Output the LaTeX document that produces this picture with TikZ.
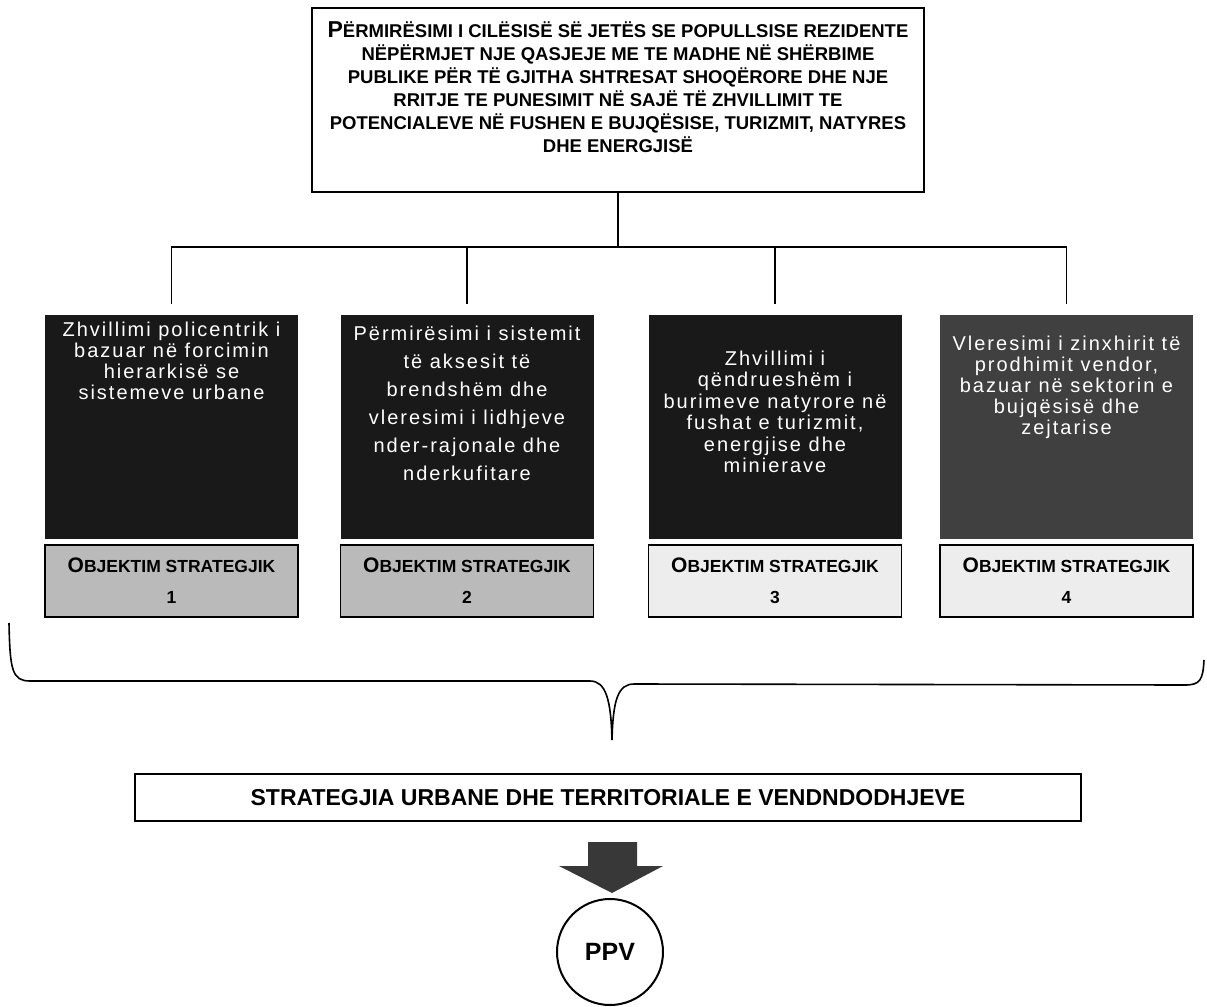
\documentclass[tikz,border=0pt]{standalone}
\usepackage{fontspec}
\setmainfont{Liberation Sans}
\newfontfamily\spacedfont[LetterSpace=10]{Liberation Sans}
\usetikzlibrary{positioning}

\begin{document}
\begin{tikzpicture}[x=0.5pt,y=-0.5pt,
   conn/.style={line width=0.6pt},
   frame/.style={draw,line width=0.6pt,minimum width=306pt,minimum height=92pt,inner sep=0pt},
   goaltext/.style={align=center,inner sep=0pt,font=\bfseries\fontsize{9.25}{11.5}\selectfont},
   objbox/.style={fill=black!90,minimum width=126.5pt,minimum height=112pt,inner sep=0pt},
   objtext/.style={text=white,align=center,inner sep=0pt,font=\spacedfont\fontsize{10}{#1}\selectfont},
   lab/.style={draw,line width=0.7pt,minimum width=126.5pt,minimum height=36pt,inner sep=0pt,
      align=center,font=\bfseries\fontsize{8.75}{15.5}\selectfont},
   strat/.style={draw,line width=0.7pt,minimum width=473pt,minimum height=23.5pt,inner sep=0pt,
      font=\bfseries\fontsize{11.5}{13}\selectfont},
   ppvnode/.style={circle,draw,line width=1pt,minimum size=53pt,inner sep=0pt,
      font=\bfseries\fontsize{12.5}{14}\selectfont}]
   \useasboundingbox (0,0) rectangle (1207,1007);

   % general objective
   \node[frame] (goal) at (618,100) {};
   \node[goaltext, below=6.75pt of goal.north] (goaltext) {{\fontsize{11.5}{11.5}\selectfont P}ËRMIRËSIMI I CILËSISË SË JETËS SE POPULLSISE REZIDENTE\\
      NËPËRMJET NJE QASJEJE ME TE MADHE NË SHËRBIME\\
      PUBLIKE PËR TË GJITHA SHTRESAT SHOQËRORE DHE NJE\\
      RRITJE TE PUNESIMIT NË SAJË TË ZHVILLIMIT TE\\
      POTENCIALEVE NË FUSHEN E BUJQËSISE, TURIZMIT, NATYRES\\
      DHE ENERGJISË};

   % strategic objectives
   \node[objbox] (b1) at (171.5,427) {};
   \node[objbox] (b2) at (467,427) {};
   \node[objbox] (b3) at (775,427) {};
   \node[objbox,fill=black!75] (b4) at (1066.5,427) {};
   \node[objtext=10.5pt, below=3.5pt of b1.north] (t1) {Zhvillimi policentrik i\\bazuar në forcimin\\hierarkisë se\\sistemeve urbane};
   \node[objtext=14pt, below=5.5pt of b2.north] (t2) {Përmirësimi i sistemit\\të aksesit të\\brendshëm dhe\\vleresimi i lidhjeve\\nder-rajonale dhe\\nderkufitare};
   \node[objtext=10.75pt, below=18pt of b3.north] (t3) {Zhvillimi i\\qëndrueshëm i\\burimeve natyrore në\\fushat e turizmit,\\energjise dhe\\minierave};
   \node[objtext=10.5pt, below=10.5pt of b4.north] (t4) {Vleresimi i zinxhirit të\\prodhimit vendor,\\bazuar në sektorin e\\bujqësisë dhe\\zejtarise};
   \foreach \i/\c in {1/27,2/27,3/7,4/7}
      \node[lab, fill=black!\c, below=2.5pt of b\i] (l\i) {{\fontsize{10.5}{15.5}\selectfont O}BJEKTIM STRATEGJIK\\\i};

   \coordinate (bus) at (618,247);
   \draw[conn] (goal.south) -- (bus);
   \foreach \i in {1,...,4}
      \draw[conn, shorten >=5.5pt] (bus) -| (b\i.north);

   % brace
   \coordinate (tip) at (612,740);
   \draw[line width=0.8pt] (9,623) .. controls (10,670) and (12,681) .. (30,681) -- (590,681)
      .. controls (606,681) and (611,700) .. (tip) .. controls (613,700) and (618,684) .. (634,684)
      -- (1185,685) .. controls (1200,685) and (1203,680) .. (1204,660);

   \node[strat] (strat) at (608,797.5) {STRATEGJIA URBANE DHE TERRITORIALE E VENDNDODHJEVE};

   \draw[fill=black!78,draw=none] (588,842) -- (637,842) -- (637,866) -- (663,866) -- (612,893)
      -- (559,866) -- (588,866) -- cycle;
   \node[ppvnode] (ppv) at (610,952) {PPV};
\end{tikzpicture}
\end{document}
